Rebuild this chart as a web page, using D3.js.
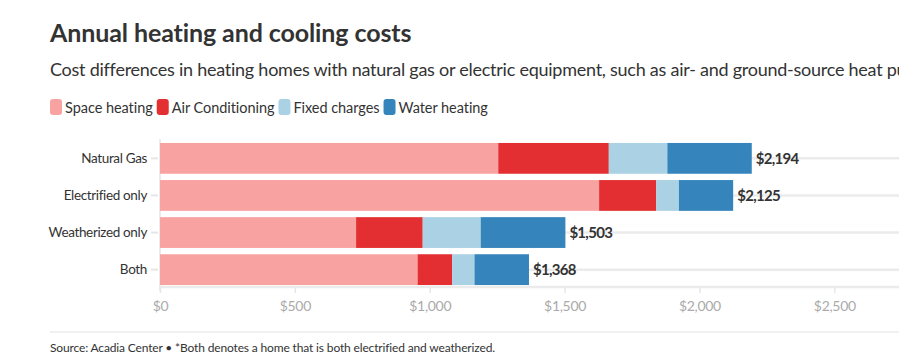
<!DOCTYPE html>
<meta charset="utf-8">
<style>
  body { margin: 0; background: #fff; }
  svg { font-family: Lato, "Noto Sans", sans-serif; }
  .title { font-size: 25px; font-weight: bold; fill: #333; letter-spacing: -0.1px; }
  .subtitle { font-size: 18px; fill: #333; letter-spacing: -0.25px; }
  .legend text { font-size: 14.5px; fill: #333; letter-spacing: -0.05px; }
  .ylab { font-size: 13.5px; fill: #333; letter-spacing: -0.35px; }
  .xaxis text { font-size: 14px; fill: #aaa; letter-spacing: -0.3px; }
  .total { font-size: 15px; font-weight: bold; fill: #333; letter-spacing: -0.7px; }
  .foot { font-size: 12px; fill: #333; letter-spacing: -0.15px; }
</style>
<svg width="899" height="358"></svg>
<script src="https://d3js.org/d3.v7.min.js"></script>
<script>
  var categories = ["Natural Gas", "Electrified only", "Weatherized only", "Both"];
  var seriesNames = ["Space heating", "Air Conditioning", "Fixed charges", "Water heating"];
  var spaceHeating = [1254, 1628, 727, 955];
  var airConditioning = [410, 212, 247, 128];
  var fixedCharges = [217, 84, 215, 83];
  var waterHeating = [313, 201, 314, 202];
  var totals = [2194, 2125, 1503, 1368];
  var xTicks = [0, 500, 1000, 1500, 2000, 2500];
  var colors = ["#f9a2a2", "#e32f31", "#abd1e4", "#3584bb"];

  var svg = d3.select("svg"),
      width = +svg.attr("width");

  var rows = categories.map(function (c, i) {
    return { cat: c, "Space heating": spaceHeating[i], "Air Conditioning": airConditioning[i],
      "Fixed charges": fixedCharges[i], "Water heating": waterHeating[i], total: totals[i] };
  });
  var stacked = d3.stack().keys(seriesNames)(rows);

  var x = d3.scaleLinear().domain([0, 2500]).range([160, 834.3]);
  var y = d3.scaleBand().domain(categories).range([140, 288]).paddingInner(0.17).paddingOuter(0.08);
  var color = d3.scaleOrdinal().domain(seriesNames).range(colors);

  svg.append("text").attr("class", "title").attr("x", 50).attr("y", 42).text("Annual heating and cooling costs");
  svg.append("text").attr("class", "subtitle").attr("x", 50).attr("y", 76)
    .text("Cost differences in heating homes with natural gas or electric equipment, such as air- and ground-source heat pumps.");

  // legend
  var legend = svg.append("g").attr("class", "legend");
  var lx = 50;
  seriesNames.forEach(function (s) {
    legend.append("rect").attr("x", lx).attr("y", 99).attr("width", 12).attr("height", 16)
      .attr("rx", 3).attr("fill", color(s));
    var t = legend.append("text").attr("x", lx + 15).attr("y", 112.5).text(s);
    lx += 15 + t.node().getComputedTextLength() + 4;
  });

  // gridlines
  svg.append("g").selectAll("line").data(categories).join("line")
    .attr("x1", x(0)).attr("x2", width)
    .attr("y1", function (d) { return y(d) + y.bandwidth() / 2; })
    .attr("y2", function (d) { return y(d) + y.bandwidth() / 2; })
    .attr("stroke", "#ebebeb").attr("stroke-width", 2.5);

  // y axis
  svg.append("line").attr("x1", x(0)).attr("x2", x(0)).attr("y1", 139).attr("y2", 291)
    .attr("stroke", "#ebebeb").attr("stroke-width", 2);
  var yl = svg.append("g");
  yl.selectAll("line").data(categories).join("line")
    .attr("x1", 151).attr("x2", 158)
    .attr("y1", function (d) { return y(d) + y.bandwidth() / 2; })
    .attr("y2", function (d) { return y(d) + y.bandwidth() / 2; })
    .attr("stroke", "#e6e6e6").attr("stroke-width", 2);
  yl.selectAll("text").data(categories).join("text").attr("class", "ylab")
    .attr("x", 147).attr("y", function (d) { return y(d) + y.bandwidth() / 2; })
    .attr("dy", "0.35em").attr("text-anchor", "end").text(function (d) { return d; });

  // x axis
  var xa = svg.append("g").attr("class", "xaxis").attr("transform", "translate(0,287)")
    .call(d3.axisBottom(x).tickValues(xTicks).tickSize(6).tickPadding(8)
      .tickFormat(function (d) { return "$" + d3.format(",")(d); }));
  xa.select(".domain").remove();
  xa.selectAll(".tick line").attr("stroke", "#e6e6e6").attr("stroke-width", 1.5);
  xa.attr("font-family", null).attr("font-size", null);
  svg.append("line").attr("x1", x(0)).attr("x2", width).attr("y1", 287).attr("y2", 287)
    .attr("stroke", "#ebebeb").attr("stroke-width", 2.5);

  // bars
  svg.append("g").selectAll("g").data(stacked).join("g")
    .attr("fill", function (d) { return color(d.key); })
    .selectAll("rect").data(function (d) { return d; }).join("rect")
    .attr("x", function (d) { return x(d[0]); })
    .attr("y", function (d) { return y(d.data.cat); })
    .attr("width", function (d) { return x(d[1]) - x(d[0]); })
    .attr("height", y.bandwidth());

  svg.append("g").selectAll("text").data(rows).join("text").attr("class", "total")
    .attr("x", function (d) { return x(d.total) + 4; })
    .attr("y", function (d) { return y(d.cat) + y.bandwidth() / 2; })
    .attr("dy", "0.35em")
    .text(function (d) { return "$" + d3.format(",")(d.total); });

  // footer
  svg.append("line").attr("x1", 50).attr("x2", width).attr("y1", 332).attr("y2", 332)
    .attr("stroke", "#e3e3e3").attr("stroke-width", 1);
  svg.append("text").attr("class", "foot").attr("x", 50).attr("y", 352)
    .text("Source: Acadia Center \u2022 *Both denotes a home that is both electrified and weatherized.");
</script>
